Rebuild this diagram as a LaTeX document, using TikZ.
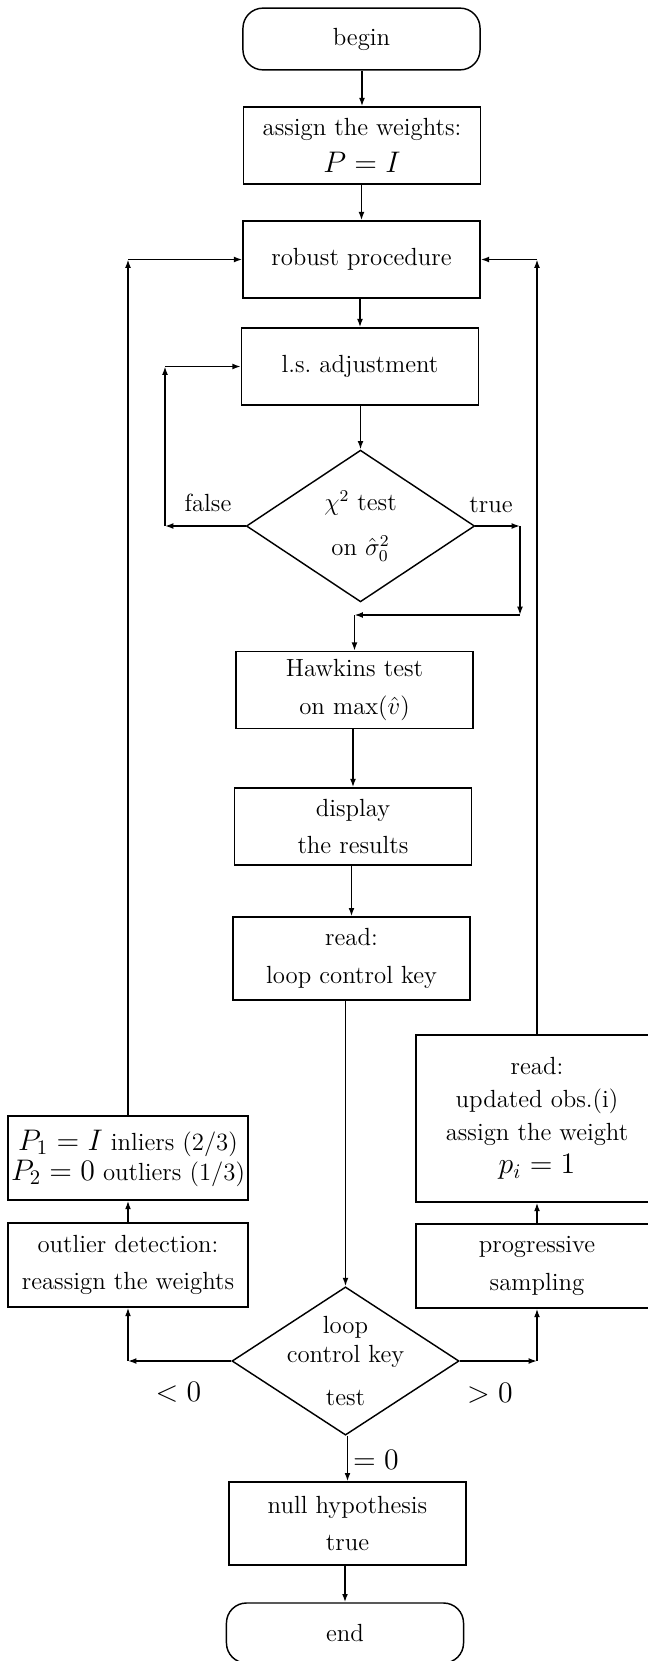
\documentclass[tikz,border=0pt]{standalone}
\usetikzlibrary{shapes.geometric, arrows.meta}

\tikzset{
  box/.style={draw, rectangle, minimum width=4.03cm, minimum height=1.31cm,
    inner sep=0pt, align=center, font=\fontsize{12}{18}\selectfont},
  terminal/.style={draw, rectangle, rounded corners=0.34cm, minimum width=4.03cm,
    minimum height=1.05cm, inner sep=0pt, font=\fontsize{12}{18}\selectfont},
  decision/.style={draw, diamond, minimum width=3.88cm, minimum height=2.58cm,
    inner sep=0pt, align=center, font=\fontsize{12}{15}\selectfont},
  arr/.style={-{Latex[length=4pt,width=2.8pt]}},
  lbl/.style={inner sep=0pt, font=\fontsize{12}{14}\selectfont}
}

\begin{document}
\begin{tikzpicture}[x=0.017cm, y=-0.017cm, line width=0.7pt]
    \useasboundingbox (0,0) rectangle (647,1661);

    % Main column
    \node[terminal] (begin) at (361.5,39) {begin};
    \node[box] (weights) at (362,145.5) {assign the weights:\\ {\Large $P=I$}};
    \node[box] (robust) at (361.5,259.5) {robust procedure};
    \node[box] (lsadj) at (360,366.5) {l.s.\ adjustment};
    \node[decision] (chitest) at (360.5,526) {$\chi^2$ test\\[7pt] on $\hat\sigma_0^2$};
    \node[box] (hawkins) at (354.5,690) {Hawkins test\\ on $\max(\hat v)$};
    \node[box] (display) at (353,826.5) {display\\ the results};
    \node[box, minimum height=1.41cm] (readkey) at (351.5,958.5) {read:\\ loop control key};
    \node[decision, minimum width=3.86cm, minimum height=2.52cm, inner sep=-0.35cm,
      font=\fontsize{12}{14}\selectfont] (looptest) at (345.5,1361) {loop\\ control key\\[7pt] test};
    \node[box, minimum height=1.41cm] (nullhyp) at (347.5,1523.5) {null hypothesis\\ true};
    \node[terminal, minimum height=1.02cm] (finish) at (345,1633) {end};

    % Left branch
    \node[box, minimum width=4.08cm, minimum height=1.43cm,
      font=\fontsize{12}{14.5}\selectfont] (reweight) at (128,1158)
      {{\Large $P_1=I$} inliers (2/3)\\ {\Large $P_2=0$} outliers (1/3)};
    \node[box, minimum width=4.08cm, minimum height=1.43cm] (outlier) at (128,1265)
      {outlier detection:\\ reassign the weights};

    % Right branch
    \node[box, minimum width=4.11cm, minimum height=2.84cm,
      font=\fontsize{12}{16}\selectfont] (readobs) at (537,1118.5)
      {read:\\ updated obs.(i)\\ assign the weight\\ {\Large $p_i=1$}};
    \node[box, minimum width=4.11cm, minimum height=1.43cm] (sampling) at (537,1266)
      {progressive\\ sampling};

    % Straight arrows down the column
    \draw[arr] (weights.north |- begin.south) -- (weights.north);
    \draw[arr] (robust.north |- weights.south) -- (robust.north);
    \draw[arr] (lsadj.north |- robust.south) -- (lsadj.north);
    \draw[arr] (chitest.north |- lsadj.south) -- (chitest.north);
    \draw[arr] (display.north |- hawkins.south) -- (display.north);
    \draw[arr] (readkey.north |- display.south) -- (readkey.north);
    \draw[arr] (looptest.north |- readkey.south) -- (looptest.north);
    \draw[arr] (nullhyp.north |- looptest.south) -- (nullhyp.north);
    \draw[arr] (finish.north |- nullhyp.south) -- (finish.north);

    % chi^2 test: true
    \coordinate (t1) at (520,526);
    \coordinate (t2) at (520,615);
    \draw[arr] (chitest.east) -- (t1);
    \draw[arr] (t1) -- (t2);
    \draw[arr] (t2) -- (hawkins.north |- t2);
    \draw[arr] (hawkins.north |- t2) -- (hawkins.north);

    % chi^2 test: false
    \coordinate (f1) at (165,526);
    \draw[arr] (chitest.west) -- (f1);
    \draw[arr] (f1) -- (f1 |- lsadj.west);
    \draw[arr] (f1 |- lsadj.west) -- (lsadj.west);

    % Loop control key: < 0
    \draw[arr] (looptest.west) -- (outlier.south |- looptest.west);
    \draw[arr] (outlier.south |- looptest.west) -- (outlier.south);
    \draw[arr] (outlier.north) -- (reweight.south);
    \draw[arr] (reweight.north) -- (reweight.north |- robust.west);
    \draw[arr] (reweight.north |- robust.west) -- (robust.west);

    % Loop control key: > 0
    \draw[arr] (looptest.east) -- (sampling.south |- looptest.east);
    \draw[arr] (sampling.south |- looptest.east) -- (sampling.south);
    \draw[arr] (sampling.north) -- (readobs.south);
    \draw[arr] (readobs.north) -- (readobs.north |- robust.east);
    \draw[arr] (readobs.north |- robust.east) -- (robust.east);

    % Branch labels
    \node[lbl] (lfalse) at (208,503) {false};
    \node[lbl] (ltrue) at (491,505) {true};
    \node[lbl, font=\Large] (lneg) at (178.5,1392) {$<0$};
    \node[lbl, font=\Large] (lpos) at (490,1393) {$>0$};
    \node[lbl, font=\Large] (lzero) at (376,1460) {$=0$};

\end{tikzpicture}
\end{document}
